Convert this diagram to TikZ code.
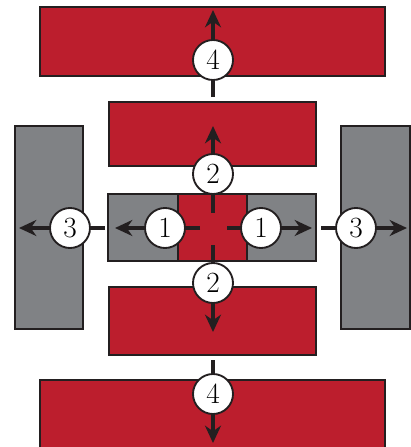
\documentclass[tikz,border=0pt]{standalone}
\usepackage{tikz}
\usetikzlibrary{arrows.meta}
\definecolor{wallred}{RGB}{188,30,45}
\definecolor{wallgray}{RGB}{128,130,133}
\definecolor{ink}{RGB}{35,31,32}

\begin{document}
\begin{tikzpicture}[x=0.75pt,y=-0.75pt,draw=ink,
    wall/.style={draw=ink,line width=0.8pt},
    num/.style={circle,draw=ink,fill=white,line width=1.4pt,minimum size=30pt,
      inner sep=0pt,font=\fontsize{22}{24}\selectfont},
    push/.style={ink,line width=2.8pt,-{Stealth[length=13pt,width=12pt]}},
    tail/.style={ink,line width=2.8pt}]
    \useasboundingbox (0,0) rectangle (411,447);

    % outer walls
    \draw[wall,fill=wallred] (40,7) rectangle (385,76);
    \draw[wall,fill=wallred] (40,380) rectangle (385,460);
    \draw[wall,fill=wallgray] (15,126) rectangle (83,329);
    \draw[wall,fill=wallgray] (341,126) rectangle (410,329);

    % inner walls
    \draw[wall,fill=wallred] (109,102) rectangle (316,166);
    \draw[wall,fill=wallred] (109,287) rectangle (316,355);
    \draw[wall,fill=wallgray] (108,194) rectangle (316,261);
    \draw[wall,fill=wallred] (178,194) rectangle (247,261);

    % numbers
    \node[num] (n4u) at (213,60) {4};
    \node[num] (n2u) at (213,174) {2};
    \node[num] (n1l) at (165,228) {1};
    \node[num] (n1r) at (261,228) {1};
    \node[num] (n2d) at (213,283) {2};
    \node[num] (n4d) at (213,394) {4};
    \node[num] (n3l) at (70,228) {3};
    \node[num] (n3r) at (356,228) {3};

    % arrow ends
    \coordinate (t4u) at (213,10);
    \coordinate (t2u) at (213,126);
    \coordinate (t1l) at (115,228);
    \coordinate (t1r) at (312,228);
    \coordinate (t2d) at (213,332);
    \coordinate (t4d) at (213,443);
    \coordinate (t3l) at (19,228);
    \coordinate (t3r) at (407,228);

    % tail ends
    \coordinate (s4u) at (213,97);
    \coordinate (s4d) at (213,360);
    \coordinate (s3l) at (105,228);
    \coordinate (s3r) at (321,228);
    \coordinate (s2u) at (213,213);
    \coordinate (s2d) at (213,245);
    \coordinate (s1l) at (200,228);
    \coordinate (s1r) at (227,228);

    \draw[tail] (s4u) -- (n4u);
    \draw[push] (n4u) -- (t4u);
    \draw[tail] (s4d) -- (n4d);
    \draw[push] (n4d) -- (t4d);
    \draw[tail] (s2u) -- (n2u);
    \draw[push] (n2u) -- (t2u);
    \draw[tail] (s2d) -- (n2d);
    \draw[push] (n2d) -- (t2d);
    \draw[tail] (s1l) -- (n1l);
    \draw[push] (n1l) -- (t1l);
    \draw[tail] (s1r) -- (n1r);
    \draw[push] (n1r) -- (t1r);
    \draw[tail] (s3l) -- (n3l);
    \draw[push] (n3l) -- (t3l);
    \draw[tail] (s3r) -- (n3r);
    \draw[push] (n3r) -- (t3r);
\end{tikzpicture}
\end{document}
